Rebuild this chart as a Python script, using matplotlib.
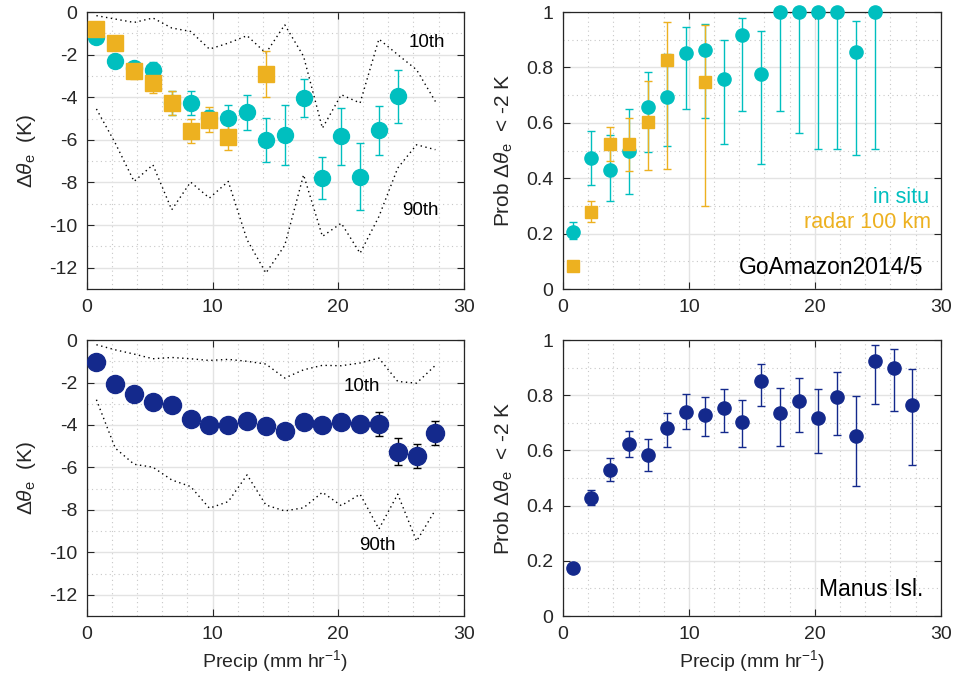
import matplotlib

matplotlib.use("Agg")
import matplotlib.pyplot as plt
import numpy as np
from matplotlib.ticker import FuncFormatter, MultipleLocator

plt.rcParams["font.family"] = ["Liberation Sans", "DejaVu Sans"]
plt.rcParams["mathtext.fontset"] = "custom"
plt.rcParams["mathtext.rm"] = "Liberation Sans"
plt.rcParams["mathtext.it"] = "Liberation Sans:italic"

# precip bin centres (mm/hr)
precip = [0.75, 2.25, 3.75, 5.25, 6.75, 8.25, 9.75, 11.25, 12.75, 14.25,
          15.75, 17.25, 18.75, 20.25, 21.75, 23.25, 24.75, 26.25, 27.75]

# GoAmazon in situ: mean d(theta_e) and std error
goam_dte = [-1.15, -2.29, -2.63, -2.7, -4.27, -4.27, -4.98, -4.98, -4.71, -6.0,
            -5.79, -4.04, -7.79, -5.84, -7.72, -5.56, -3.96]
goam_dte_err = [0.15, 0.15, 0.2, 0.35, 0.55, 0.57, 0.4, 0.6, 0.82, 1.04,
                1.41, 0.88, 0.97, 1.35, 1.55, 1.14, 1.23]
goam_p10 = [-0.17, -0.33, -0.49, -0.28, -0.75, -0.91, -1.74, -1.46, -1.11, -1.93,
            -0.6, -2.08, -5.45, -3.88, -4.27, -1.27, -2.0, -2.71, -4.2]
goam_p90 = [-4.55, -6.15, -7.95, -7.17, -9.28, -7.98, -8.73, -7.95, -10.69, -12.25,
            -10.95, -7.64, -10.53, -9.91, -11.32, -9.6, -7.32, -6.23, -6.46]

# GoAmazon radar (100 km)
radar_x = [0.75, 2.25, 3.75, 5.25, 6.75, 8.25, 9.75, 11.25, 14.25]
radar_dte = [-0.8, -1.46, -2.76, -3.33, -4.27, -5.6, -5.06, -5.87, -2.91]
radar_dte_err = [0.1, 0.1, 0.39, 0.49, 0.56, 0.56, 0.59, 0.6, 1.06]

# probability d(theta_e) < -2 K, with lower/upper bounds
goam_prob = [0.207, 0.472, 0.431, 0.5, 0.657, 0.693, 0.853, 0.864, 0.759, 0.916,
             0.778, 1.0, 1.0, 1.0, 1.0, 0.856, 1.0]
goam_prob_lo = [0.18, 0.374, 0.317, 0.342, 0.495, 0.517, 0.65, 0.618, 0.524, 0.644,
                0.45, 0.644, 0.563, 0.507, 0.507, 0.485, 0.507]
goam_prob_hi = [0.241, 0.57, 0.556, 0.651, 0.783, 0.85, 0.946, 0.958, 0.9, 0.98,
                0.932, 1.0, 1.0, 1.0, 1.0, 0.968, 1.0]

radar_prob_x = [0.75, 2.25, 3.75, 5.25, 6.75, 8.25, 11.25]
radar_prob = [0.082, 0.277, 0.522, 0.522, 0.603, 0.826, 0.747]
radar_prob_lo = [0.072, 0.243, 0.462, 0.425, 0.431, 0.434, 0.298]
radar_prob_hi = [0.092, 0.318, 0.585, 0.618, 0.752, 0.964, 0.952]

# Manus Island
manus_dte = [-1.02, -2.07, -2.55, -2.92, -3.06, -3.72, -4.02, -4.02, -3.8, -4.07,
             -4.3, -3.84, -4.02, -3.86, -3.94, -3.96, -5.25, -5.48, -4.38]
manus_dte_err = [0.05, 0.1, 0.1, 0.12, 0.15, 0.15, 0.2, 0.2, 0.2, 0.25,
                 0.25, 0.3, 0.3, 0.3, 0.35, 0.57, 0.62, 0.57, 0.57]
manus_p10 = [-0.22, -0.46, -0.66, -0.88, -0.82, -0.88, -0.96, -0.91, -1.0, -1.13,
             -1.79, -1.4, -1.19, -1.21, -1.08, -0.85, -1.95, -2.03, -1.19]
manus_p90 = [-2.81, -5.09, -5.85, -5.99, -6.59, -6.9, -7.92, -7.61, -6.35, -7.77,
             -8.05, -7.9, -7.17, -7.8, -7.26, -8.9, -7.26, -9.47, -8.0]
manus_prob = [0.174, 0.429, 0.529, 0.624, 0.585, 0.681, 0.741, 0.73, 0.754, 0.702,
              0.853, 0.736, 0.781, 0.718, 0.792, 0.653, 0.925, 0.898, 0.763]
manus_prob_lo = [0.16, 0.401, 0.489, 0.578, 0.524, 0.614, 0.677, 0.653, 0.667, 0.612,
                 0.761, 0.615, 0.666, 0.591, 0.657, 0.473, 0.767, 0.744, 0.549]
manus_prob_hi = [0.19, 0.457, 0.572, 0.671, 0.642, 0.737, 0.803, 0.793, 0.822, 0.784,
                 0.912, 0.827, 0.864, 0.824, 0.884, 0.799, 0.981, 0.966, 0.894]

CYAN = "#00bfbf"
ORANGE = "#edb120"
NAVY = "#14298c"
TXT = "#262626"
FS = 14
DTE_LABEL = "\u0394$\\theta_\\mathrm{e}$  (K)"
PROB_LABEL = "Prob \u0394$\\theta_\\mathrm{e}$  < -2 K"


def style(ax, prob):
    ax.set_xlim(0, 30)
    ax.xaxis.set_major_locator(MultipleLocator(10))
    ax.xaxis.set_minor_locator(MultipleLocator(2))
    if prob:
        ax.set_ylim(0, 1)
        ax.yaxis.set_major_locator(MultipleLocator(0.2))
        ax.yaxis.set_minor_locator(MultipleLocator(0.1))
        ax.yaxis.set_major_formatter(FuncFormatter(lambda v, p: f"{v:g}"))
    else:
        ax.set_ylim(-13, 0)
        ax.yaxis.set_major_locator(MultipleLocator(2))
        ax.yaxis.set_minor_locator(MultipleLocator(1))
        ax.yaxis.set_major_formatter(FuncFormatter(lambda v, p: f"{v:g}".replace("\u2212", "-")))
    ax.grid(which="major", color="#e3e3e3", lw=1.0, ls="-")
    ax.grid(which="minor", color="#c8c8c8", lw=0.8, ls=(0, (1, 3)))
    ax.set_axisbelow(True)
    ax.tick_params(which="major", direction="in", length=5, width=0.8, top=True, right=True,
                   labelsize=FS, colors=TXT, pad=7)
    ax.tick_params(which="minor", length=0, top=True, right=True)
    for s in ax.spines.values():
        s.set_color(TXT)
        s.set_linewidth(0.9)


def asym(p, lo, hi):
    p, lo, hi = np.array(p), np.array(lo), np.array(hi)
    return [p - lo, hi - p]


fig = plt.figure(figsize=(9.56, 6.87), dpi=100)
axTL = fig.add_axes([0.091, 0.5793, 0.394, 0.4032])
axTR = fig.add_axes([0.589, 0.5793, 0.395, 0.4032])
axBL = fig.add_axes([0.091, 0.1033, 0.394, 0.4017])
axBR = fig.add_axes([0.589, 0.1033, 0.395, 0.4017])

dotted = dict(color="k", lw=1.0, ls=(0, (1, 2.5)), zorder=2)
eb = dict(ls="none", capsize=3, elinewidth=1.0, capthick=1.0, zorder=4)

# top left: GoAmazon d(theta_e)
axTL.plot(precip, goam_p10, **dotted)
axTL.plot(precip, goam_p90, **dotted)
n = len(goam_dte)
axTL.errorbar(precip[:n], goam_dte, yerr=goam_dte_err, fmt="o", color=CYAN, ms=11.5, **eb)
axTL.errorbar(radar_x, radar_dte, yerr=radar_dte_err, fmt="s", color=ORANGE, ms=11, **eb)
axTL.text(25.6, -1.45, "10th", fontsize=13.5, va="center", color="k")
axTL.text(25.1, -9.3, "90th", fontsize=13.5, va="center", color="k")
axTL.set_ylabel(DTE_LABEL, fontsize=15, color=TXT, labelpad=8)

# top right: GoAmazon probability
axTR.errorbar(precip[:n], goam_prob, yerr=asym(goam_prob, goam_prob_lo, goam_prob_hi),
              fmt="o", color=CYAN, ms=9.5, clip_on=False, **eb)
axTR.errorbar(radar_prob_x, radar_prob, yerr=asym(radar_prob, radar_prob_lo, radar_prob_hi),
              fmt="s", color=ORANGE, ms=8.5, **eb)
axTR.text(29.1, 0.33, "in situ", fontsize=15.5, ha="right", va="center", color=CYAN)
axTR.text(29.2, 0.24, "radar 100 km", fontsize=15.5, ha="right", va="center", color=ORANGE)
axTR.text(28.6, 0.077, "GoAmazon2014/5", fontsize=16.5, ha="right", va="center", color="k")
axTR.set_ylabel(PROB_LABEL, fontsize=15, color=TXT, labelpad=8)

# bottom left: Manus d(theta_e)
axBL.plot(precip, manus_p10, **dotted)
axBL.plot(precip, manus_p90, **dotted)
axBL.errorbar(precip, manus_dte, yerr=manus_dte_err, fmt="o", color=NAVY, ecolor="k",
              ms=13, **eb)
axBL.text(20.4, -2.2, "10th", fontsize=13.5, va="center", color="k")
axBL.text(21.7, -9.67, "90th", fontsize=13.5, va="center", color="k")
axBL.set_ylabel(DTE_LABEL, fontsize=15, color=TXT, labelpad=8)
axBL.set_xlabel(r"Precip (mm hr$^{-1}$)", fontsize=FS, color=TXT)

# bottom right: Manus probability
axBR.errorbar(precip, manus_prob, yerr=asym(manus_prob, manus_prob_lo, manus_prob_hi),
              fmt="o", color=NAVY, ms=9.5, **eb)
axBR.text(28.6, 0.096, "Manus Isl.", fontsize=16.5, ha="right", va="center", color="k")
axBR.set_ylabel(PROB_LABEL, fontsize=15, color=TXT, labelpad=8)
axBR.set_xlabel(r"Precip (mm hr$^{-1}$)", fontsize=FS, color=TXT)

for ax, prob in [(axTL, False), (axTR, True), (axBL, False), (axBR, True)]:
    style(ax, prob)

fig.savefig("out.png", dpi=100)
